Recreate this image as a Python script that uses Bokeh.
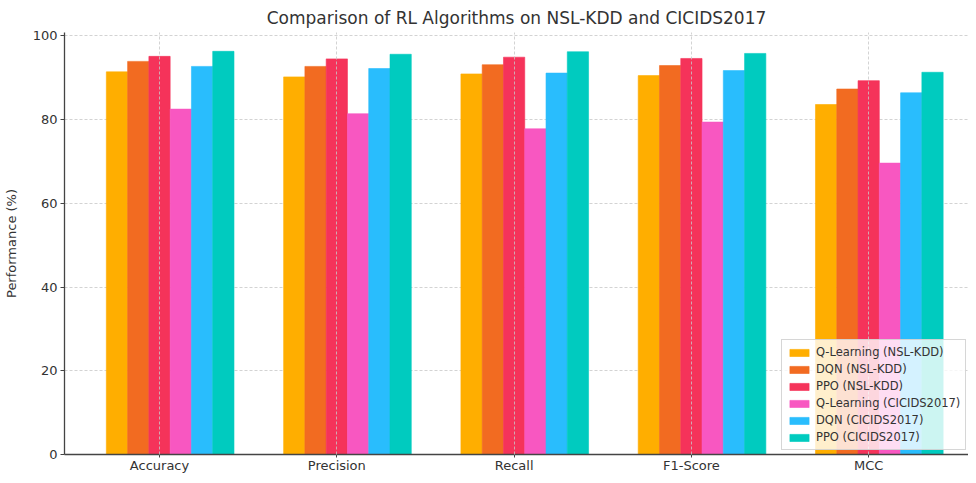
from bokeh.plotting import figure
from bokeh.models import ColumnDataSource, Range1d, FixedTicker, Legend, LegendItem
from bokeh.embed import file_html
from bokeh.resources import INLINE

metrics = ["Accuracy", "Precision", "Recall", "F1-Score", "MCC"]
series_names = ["Q-Learning (NSL-KDD)", "DQN (NSL-KDD)", "PPO (NSL-KDD)",
                "Q-Learning (CICIDS2017)", "DQN (CICIDS2017)", "PPO (CICIDS2017)"]
q_nsl = [91.4, 90.2, 90.9, 90.5, 83.6]
dqn_nsl = [93.9, 92.7, 93.1, 92.9, 87.3]
ppo_nsl = [95.1, 94.5, 94.9, 94.6, 89.3]
q_cic = [82.5, 81.4, 77.8, 79.4, 69.6]
dqn_cic = [92.7, 92.2, 91.1, 91.7, 86.4]
ppo_cic = [96.3, 95.6, 96.2, 95.8, 91.3]
colors = ["#FFAE00", "#F26B21", "#F5335A", "#F857C1", "#29BDFD", "#00CBBF"]
series = [q_nsl, dqn_nsl, ppo_nsl, q_cic, dqn_cic, ppo_cic]

bar_w = 0.12
font = "DejaVu Sans"

p = figure(width=968, height=475, output_backend="svg", toolbar_location=None,
           x_range=Range1d(-0.536, 4.563), y_range=Range1d(0, 100.8),
           title="Comparison of RL Algorithms on NSL-KDD and CICIDS2017",
           min_border_left=63, min_border_right=0, min_border_top=14, min_border_bottom=0)
p.outline_line_color = None
p.title.align = "center"
p.title.text_font = font
p.title.text_font_size = "17px"
p.title.text_font_style = "normal"
p.title.text_color = "#333333"
p.title.offset = 0

legend_items = []
for i, (name, vals, col) in enumerate(zip(series_names, series, colors)):
    xs = [k + (i - 2) * bar_w for k in range(len(metrics))]
    src = ColumnDataSource(dict(x=xs, top=vals))
    r = p.vbar(x="x", top="top", width=bar_w, bottom=0, source=src,
               fill_color=col, line_color=col, line_alpha=0.6, line_width=1)
    legend_items.append(LegendItem(label=name, renderers=[r]))

p.xaxis.ticker = FixedTicker(ticks=list(range(len(metrics))))
p.xaxis.major_label_overrides = {i: m for i, m in enumerate(metrics)}
p.yaxis.ticker = FixedTicker(ticks=[0, 20, 40, 60, 80, 100])
p.yaxis.axis_label = "Performance (%)"

for ax in (p.xaxis[0], p.yaxis[0]):
    ax.major_label_text_font = font
    ax.major_label_text_font_size = "13px"
    ax.major_label_text_color = "#333333"
    ax.axis_line_color = "#444444"
    ax.axis_line_width = 1.3
    ax.major_tick_line_color = "#444444"
    ax.major_tick_out = 4
    ax.major_tick_in = 0
    ax.minor_tick_line_color = None
    ax.major_label_standoff = 3
    ax.axis_label_text_font = font
    ax.axis_label_text_font_size = "13px"
    ax.axis_label_text_font_style = "normal"
    ax.axis_label_text_color = "#333333"
p.xaxis.major_label_standoff = 0
p.xaxis.major_tick_out = 3
p.xaxis.axis_label_standoff = 0
p.xaxis.major_label_text_line_height = 1.0
p.yaxis.axis_label_standoff = 11

for g in (p.xgrid[0], p.ygrid[0]):
    g.grid_line_color = "#c8c8c8"
    g.grid_line_dash = "3 2"
    g.grid_line_width = 0.8
p.xgrid.level = "overlay"
p.xgrid.ticker = FixedTicker(ticks=list(range(len(metrics))))

legend = Legend(items=legend_items, location=(717, 4))
legend.label_text_font = font
legend.label_text_font_size = "11.5px"
legend.label_text_color = "#333333"
legend.glyph_width = 24
legend.glyph_height = 9
legend.label_height = 14
legend.spacing = 3
legend.padding = 5
legend.margin = 0
legend.background_fill_alpha = 0.8
legend.border_line_color = "#cccccc"
legend.border_line_alpha = 0.8
p.add_layout(legend, "center")

open("out.html", "w").write(file_html(p, INLINE))
